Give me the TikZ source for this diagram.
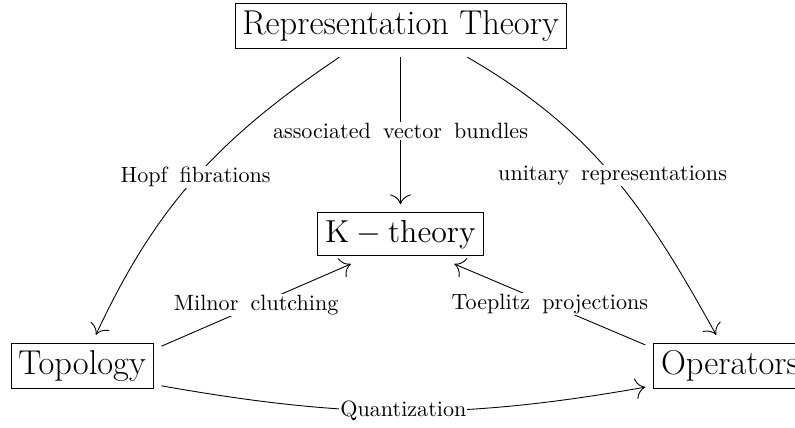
\documentclass[tikz,border=0pt]{standalone}
\usepackage{tikz}
\usetikzlibrary{arrows.meta,positioning}

\begin{document}
\begin{tikzpicture}[>={To[scale=1.8]},
  field/.style={draw,font=\fontsize{15.6}{18}\selectfont,inner sep=3.3pt,outer sep=3.8pt},
  lab/.style={fill=white,inner sep=.5pt,font={\spaceskip=5.5pt\relax}}]
\useasboundingbox (0,0) rectangle (12.643,6.791);
% the four fields
\node[field] (rep) at (6.369,6.377) {Representation Theory};
\node[field,below=2.34cm of rep] (kth) {$\mathrm{K}-\mathrm{theory}$};
\node[field] (top) at (1.304,0.970) {Topology};
\node[field] (ops) at (11.61,0.970) {Operators};
% from representation theory
\draw[->] (rep.207) to[out=214,in=65] node[lab] {Hopf fibrations} (top.66);
\draw[->] (rep) -- node[lab] {associated vector bundles} (kth);
\draw[->] (rep.335) to[out=-30,in=119] node[lab] {unitary representations} (ops.114);
% into K-theory
\draw[->] (top.14) -- node[lab] {Milnor clutching} (kth.211);
\draw[->] (ops.166) -- node[lab] {Toeplitz projections} (kth.331);
% bottom curve
\draw[->] (top.346) to[out=-10,in=190] node[lab] {Quantization} (ops.194);
\end{tikzpicture}
\end{document}
